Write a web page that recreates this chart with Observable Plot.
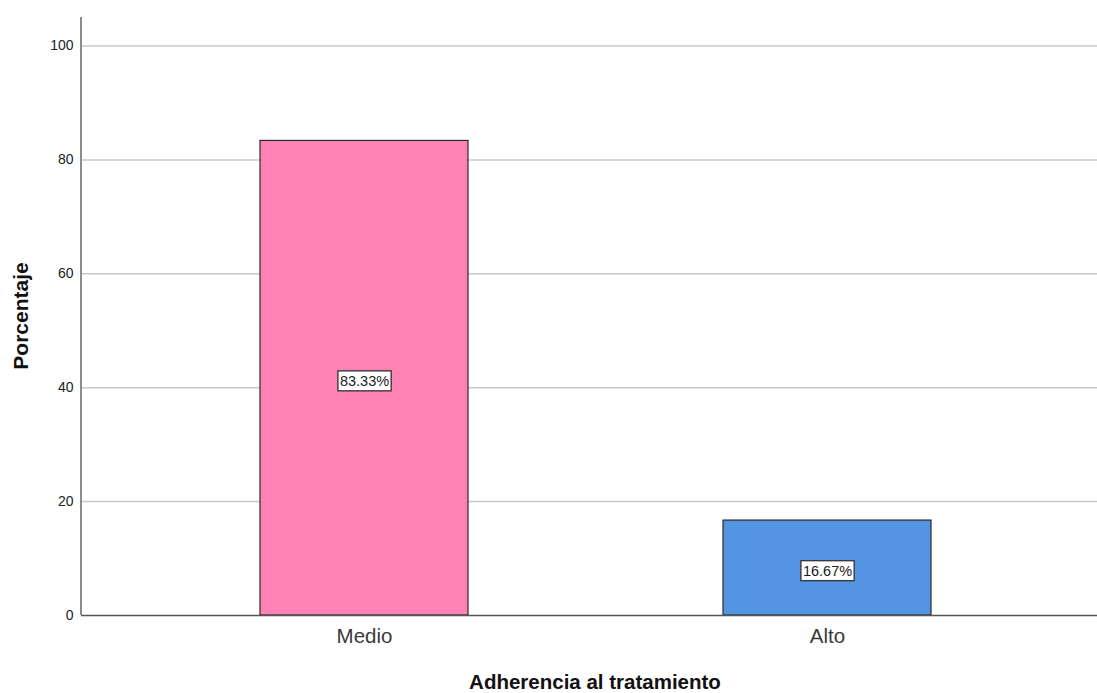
<!DOCTYPE html>
<html>
<head>
<meta charset="utf-8">
<script src="https://cdn.jsdelivr.net/npm/d3@7"></script>
<script src="https://cdn.jsdelivr.net/npm/@observablehq/plot@0.6"></script>
<style>
  html, body { margin: 0; padding: 0; background: #fff; }
  #chart svg { display: block; }
</style>
</head>
<body>
<div id="chart"></div>
<script>
// Adherencia al tratamiento: percentage of patients per level
const categories = ["Medio", "Alto"];
const percentages = [83.33, 16.67];
const barColors = ["#FF82B4", "#5394E3"];
const yTicks = [0, 20, 40, 60, 80, 100];
const yMax = 105;

const data = categories.map((c, i) => ({
  categoria: c,
  porcentaje: percentages[i],
  color: barColors[i],
  etiqueta: percentages[i].toFixed(2) + "%"
}));

const font = "Arial, 'Liberation Sans', sans-serif";

const chart = Plot.plot({
  width: 1097,
  height: 693,
  marginLeft: 81,
  marginRight: 0,
  marginTop: 17,
  marginBottom: 78,
  style: { fontFamily: font, background: "#fff" },
  x: {
    domain: categories,
    paddingInner: 0.55,
    paddingOuter: 0.372,
    align: 0.52,
    label: null
  },
  y: {
    domain: [0, yMax],
    ticks: yTicks,
    label: null
  },
  marks: [
    Plot.gridY(yTicks.filter(t => t > 0), { stroke: "#c8c8c8", strokeOpacity: 1, strokeWidth: 1.5 }),
    Plot.barY(data, {
      x: "categoria",
      y: "porcentaje",
      fill: d => d.color,
      stroke: "#2b2b2b",
      strokeWidth: 1.2
    }),
    Plot.ruleY([0], { stroke: "#555", strokeWidth: 1.3 }),
    Plot.axisY({
      ticks: yTicks,
      tickSize: 0,
      tickPadding: 8,
      fontSize: 14,
      fill: "#222",
      label: null
    }),
    Plot.axisX({
      tickSize: 0,
      tickPadding: 13,
      fontSize: 20.5,
      fill: "#3a3a3a",
      label: null
    }),
    // value labels inside the bars
    Plot.text(data, {
      x: "categoria",
      y: d => d.porcentaje / 2,
      text: "etiqueta",
      fontSize: 14.5,
      fill: "#1a1a1a",
      dy: 3,
      className: "value-label"
    })
  ]
});

document.getElementById("chart").appendChild(chart);

const svg = d3.select(chart);
const yScale = chart.scale("y");

// vertical axis line on the left edge of the plot area
svg.append("line")
  .attr("x1", 81).attr("x2", 81)
  .attr("y1", yScale.apply(yMax)).attr("y2", yScale.apply(0))
  .attr("stroke", "#8c8c8c").attr("stroke-width", 2);

// white boxes behind the value labels
svg.selectAll(".value-label text").each(function () {
  const bb = this.getBBox();
  const r = document.createElementNS("http://www.w3.org/2000/svg", "rect");
  r.setAttribute("x", bb.x - 2);
  r.setAttribute("y", bb.y - 2);
  r.setAttribute("width", bb.width + 4);
  r.setAttribute("height", bb.height + 4);
  r.setAttribute("fill", "#fff");
  r.setAttribute("stroke", "#3a3a3a");
  r.setAttribute("stroke-width", 1.4);
  const t = this.getAttribute("transform");
  if (t) r.setAttribute("transform", t);
  this.parentNode.insertBefore(r, this);
});

// axis titles
svg.append("text")
  .attr("x", 595).attr("y", 689)
  .attr("text-anchor", "middle")
  .attr("font-family", font)
  .attr("font-weight", "bold").attr("font-size", 20.5).attr("fill", "#111")
  .text("Adherencia al tratamiento");
svg.append("text")
  .attr("transform", "translate(28,316) rotate(-90)")
  .attr("text-anchor", "middle")
  .attr("font-family", font)
  .attr("font-weight", "bold").attr("font-size", 21).attr("fill", "#111")
  .text("Porcentaje");
</script>
</body>
</html>
